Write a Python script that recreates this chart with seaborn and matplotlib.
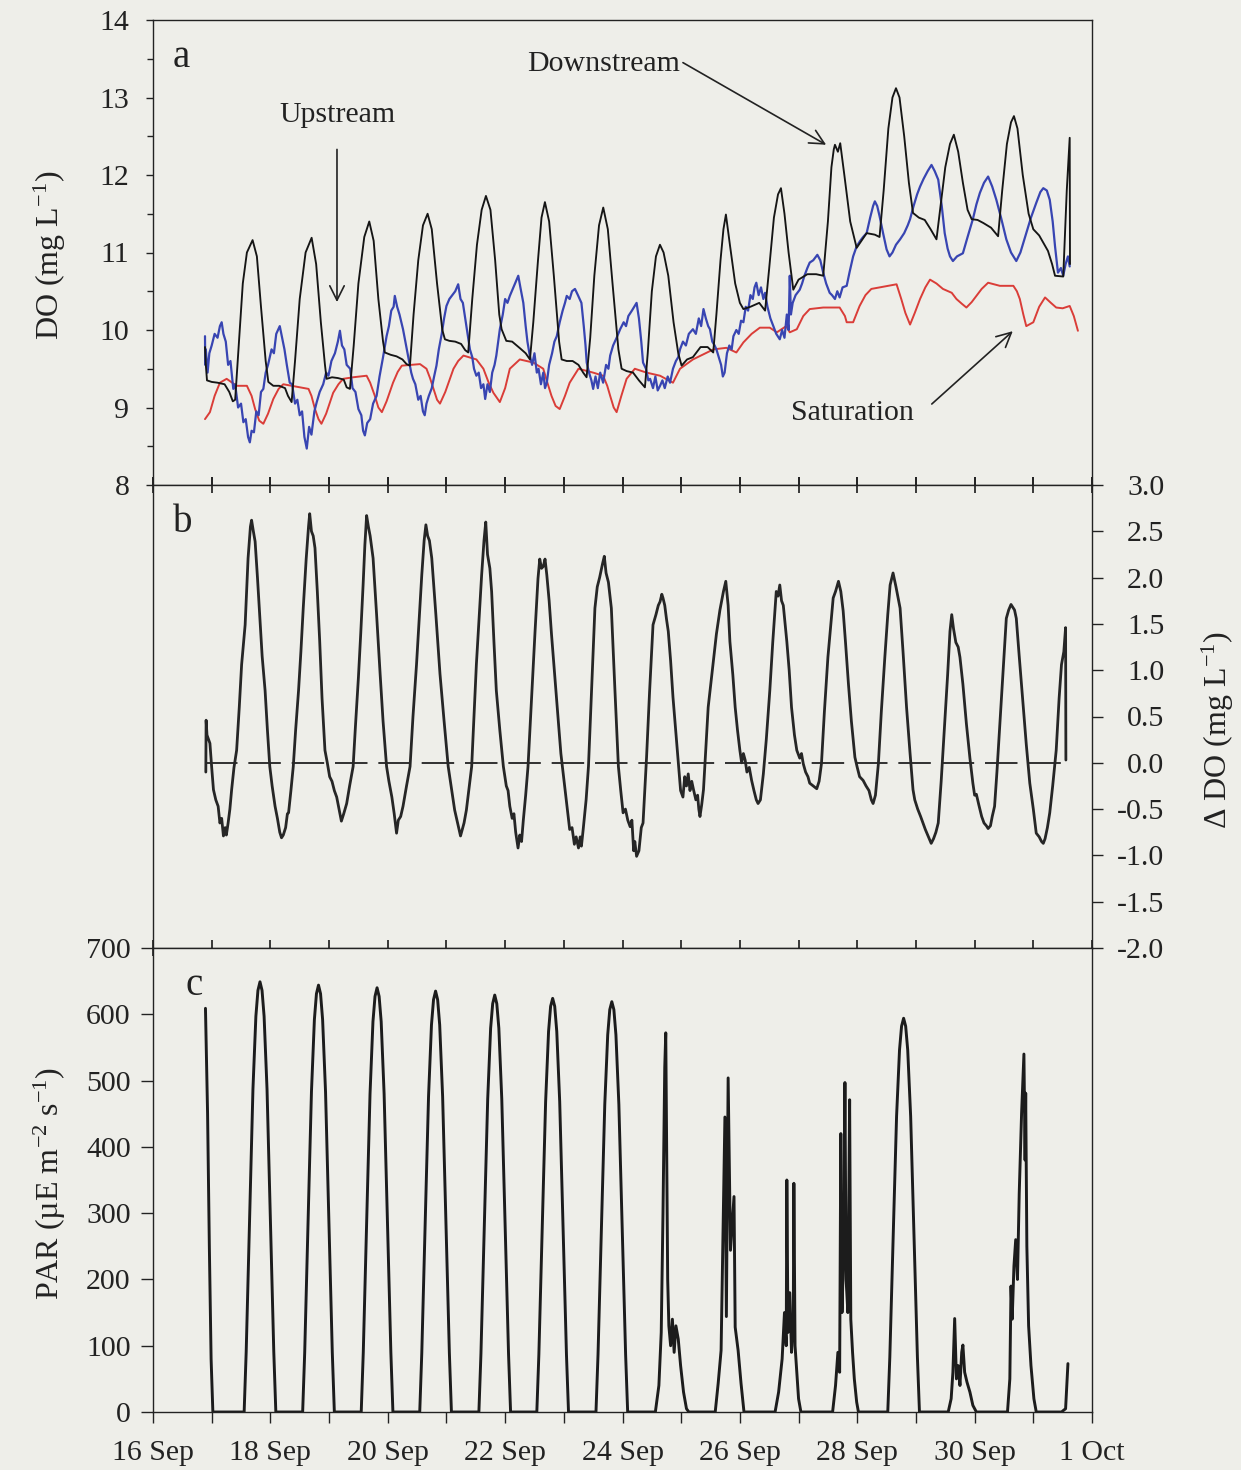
import matplotlib
matplotlib.use("Agg")
import matplotlib.pyplot as plt
from matplotlib.ticker import MultipleLocator, FixedLocator, FormatStrFormatter
import seaborn as sns

# time axis: days after 16 Sep 00:00
date_ticks = list(range(17))
date_labels = ["16 Sep", "", "18 Sep", "", "20 Sep", "", "22 Sep", "", "24 Sep", "",
               "26 Sep", "", "28 Sep", "", "30 Sep", "", "1 Oct"]

# panel a: downstream DO (mg/L)
down_t = [0.886, 0.90, 0.92, 1.0, 1.1, 1.22, 1.30, 1.36, 1.40, 1.47, 1.53, 1.60, 1.697, 1.77, 1.84, 1.92, 1.965,
          2.05, 2.15, 2.25, 2.30, 2.362, 2.42, 2.50, 2.60, 2.703, 2.78, 2.86, 2.93, 2.958,
          3.05, 3.15, 3.25, 3.30, 3.356, 3.42, 3.50, 3.60, 3.685, 3.76, 3.84, 3.92, 3.95,
          4.05, 4.15, 4.25, 4.32, 4.378, 4.44, 4.52, 4.60, 4.679, 4.75, 4.84, 4.93, 4.974,
          5.05, 5.15, 5.25, 5.32, 5.371, 5.44, 5.52, 5.60, 5.673, 5.75, 5.83, 5.90, 5.94,
          6.02, 6.12, 6.26, 6.35, 6.423, 6.48, 6.56, 6.62, 6.678, 6.75, 6.83, 6.92, 6.963,
          7.05, 7.15, 7.25, 7.33, 7.388, 7.45, 7.52, 7.60, 7.672, 7.75, 7.83, 7.93, 7.985,
          8.07, 8.18, 8.28, 8.382, 8.43, 8.50, 8.57, 8.638, 8.70, 8.78, 8.87, 8.95, 9.007,
          9.10, 9.20, 9.33, 9.45, 9.546, 9.60, 9.67, 9.72, 9.762, 9.83, 9.92, 10.00, 10.06,
          10.18, 10.33, 10.43, 10.50, 10.58, 10.65, 10.70, 10.76, 10.83, 10.91,
          11.0, 11.15, 11.30, 11.42, 11.50, 11.56, 11.60, 11.62, 11.67, 11.71, 11.78, 11.88, 11.99,
          12.16, 12.30, 12.38, 12.45, 12.53, 12.60, 12.66, 12.72, 12.80, 12.88, 12.95,
          13.05, 13.15, 13.25, 13.35, 13.42, 13.50, 13.58, 13.646, 13.72, 13.80, 13.88, 13.95,
          14.05, 14.15, 14.28, 14.40, 14.47, 14.55, 14.62, 14.67, 14.73, 14.82, 14.92,
          15.0, 15.10, 15.25, 15.32, 15.37, 15.51, 15.57, 15.62, 15.625]
down_v = [9.78, 9.55, 9.35, 9.33, 9.32, 9.30, 9.20, 9.08, 9.10, 9.9, 10.6, 11.0, 11.16, 10.95, 10.3, 9.6, 9.33,
          9.28, 9.28, 9.25, 9.15, 9.07, 9.6, 10.4, 11.0, 11.19, 10.85, 10.1, 9.55, 9.37,
          9.39, 9.38, 9.36, 9.26, 9.24, 9.8, 10.6, 11.2, 11.40, 11.15, 10.4, 9.85, 9.71,
          9.68, 9.66, 9.62, 9.56, 9.54, 10.2, 10.9, 11.35, 11.50, 11.3, 10.6, 10.0, 9.88,
          9.86, 9.85, 9.82, 9.74, 9.71, 10.4, 11.1, 11.55, 11.73, 11.55, 10.9, 10.2, 10.01,
          9.86, 9.85, 9.76, 9.70, 9.62, 10.1, 10.9, 11.45, 11.65, 11.4, 10.7, 9.85, 9.62,
          9.60, 9.60, 9.55, 9.45, 9.39, 9.9, 10.7, 11.35, 11.58, 11.3, 10.6, 9.75, 9.50,
          9.47, 9.45, 9.35, 9.26, 9.7, 10.5, 10.95, 11.10, 11.0, 10.7, 10.1, 9.7, 9.54,
          9.62, 9.65, 9.78, 9.78, 9.71, 10.2, 10.9, 11.3, 11.49, 11.1, 10.6, 10.35, 10.27,
          10.30, 10.35, 10.25, 10.8, 11.45, 11.75, 11.83, 11.5, 11.0, 10.52,
          10.65, 10.72, 10.72, 10.70, 11.4, 12.1, 12.33, 12.39, 12.30, 12.41, 12.0, 11.4, 11.06,
          11.25, 11.23, 11.20, 11.8, 12.6, 13.0, 13.12, 13.0, 12.5, 11.9, 11.51,
          11.45, 11.42, 11.30, 11.17, 11.6, 12.1, 12.40, 12.52, 12.3, 11.9, 11.55, 11.43,
          11.42, 11.38, 11.32, 11.21, 11.8, 12.4, 12.68, 12.76, 12.6, 12.0, 11.5,
          11.30, 11.22, 11.02, 10.85, 10.70, 10.69, 11.8, 12.48, 10.85]

# panel a: upstream DO (mg/L)
up_t = [0.886, 0.89, 0.90, 0.93, 0.96, 1.00, 1.05, 1.10, 1.14, 1.17, 1.20, 1.24, 1.28, 1.32, 1.368, 1.40, 1.45,
        1.50, 1.54, 1.58, 1.62, 1.65, 1.68, 1.72, 1.76, 1.80, 1.84, 1.88, 1.92, 1.96,
        2.02, 2.06, 2.10, 2.16, 2.20, 2.24, 2.28, 2.33, 2.37, 2.42, 2.46, 2.50, 2.54, 2.58, 2.62, 2.66,
        2.70, 2.75, 2.79, 2.84, 2.90, 2.95, 2.99, 3.04, 3.10, 3.15, 3.185, 3.22, 3.26, 3.30, 3.36,
        3.40, 3.45, 3.50, 3.55, 3.58, 3.61, 3.65, 3.70, 3.75, 3.81, 3.86, 3.92, 3.98,
        4.02, 4.06, 4.10, 4.12, 4.16, 4.20, 4.26, 4.30, 4.35, 4.40, 4.43, 4.47, 4.52, 4.56, 4.60, 4.63,
        4.66, 4.70, 4.75, 4.79, 4.83, 4.87, 4.92, 4.96, 5.00, 5.05, 5.10, 5.15, 5.20, 5.24, 5.28,
        5.33, 5.36, 5.40, 5.44, 5.47, 5.51, 5.55, 5.59, 5.63, 5.66, 5.70, 5.74, 5.78, 5.82, 5.85, 5.91, 5.96,
        6.00, 6.04, 6.08, 6.14, 6.18, 6.224, 6.26, 6.31, 6.35, 6.38, 6.42, 6.46, 6.50, 6.54, 6.57,
        6.61, 6.65, 6.68, 6.71, 6.75, 6.80, 6.84, 6.88, 6.93, 6.98, 7.02, 7.05, 7.10, 7.14, 7.19,
        7.24, 7.30, 7.34, 7.37, 7.39, 7.43, 7.47, 7.50, 7.54, 7.58, 7.62, 7.67, 7.72, 7.76, 7.79,
        7.84, 7.90, 7.96, 8.02, 8.06, 8.10, 8.16, 8.20, 8.24, 8.28, 8.32, 8.35, 8.40, 8.44, 8.47,
        8.52, 8.56, 8.60, 8.64, 8.68, 8.72, 8.77, 8.81, 8.86, 8.91, 8.95, 8.98, 9.03, 9.08, 9.13,
        9.20, 9.25, 9.30, 9.34, 9.38, 9.42, 9.46, 9.49, 9.53, 9.57, 9.60, 9.64, 9.68, 9.71, 9.74,
        9.78, 9.82, 9.86, 9.89, 9.94, 9.98, 10.02, 10.06, 10.10, 10.14, 10.18, 10.22, 10.25, 10.28,
        10.32, 10.36, 10.40, 10.43, 10.47, 10.52, 10.57, 10.62, 10.68, 10.72, 10.76, 10.80, 10.83,
        10.85, 10.87, 10.90, 10.95, 11.02, 11.06, 11.10, 11.15, 11.19, 11.25, 11.32, 11.37, 11.42,
        11.47, 11.53, 11.57, 11.62, 11.66, 11.70, 11.75, 11.82, 11.87, 11.93, 11.99, 12.05, 12.10,
        12.16, 12.22, 12.27, 12.30, 12.34, 12.38, 12.44, 12.50, 12.55, 12.60, 12.66, 12.73, 12.80,
        12.86, 12.90, 12.96, 13.02, 13.07, 13.13, 13.20, 13.265, 13.32, 13.38, 13.44, 13.49, 13.54,
        13.58, 13.63, 13.70, 13.80, 13.88, 13.97, 14.03, 14.09, 14.16, 14.23, 14.30, 14.37, 14.45,
        14.54, 14.62, 14.71, 14.78, 14.88, 14.96, 15.05, 15.12, 15.17, 15.23, 15.28, 15.33, 15.37,
        15.42, 15.47, 15.51, 15.55, 15.59, 15.62]
up_v = [9.92, 9.55, 9.75, 9.45, 9.70, 9.80, 9.95, 9.90, 10.05, 10.10, 9.95, 9.85, 9.55, 9.60, 9.24, 9.30, 9.00,
        9.05, 8.81, 8.85, 8.62, 8.55, 8.70, 8.68, 8.95, 8.90, 9.20, 9.24, 9.45, 9.55,
        9.75, 9.70, 9.95, 10.05, 9.90, 9.75, 9.55, 9.32, 9.30, 9.05, 9.10, 8.90, 8.95, 8.62, 8.47, 8.75,
        8.65, 8.95, 9.07, 9.20, 9.30, 9.45, 9.41, 9.60, 9.70, 9.85, 9.99, 9.80, 9.75, 9.55, 9.50,
        9.25, 9.20, 8.98, 8.90, 8.70, 8.64, 8.80, 8.85, 9.05, 9.15, 9.40, 9.65, 9.92,
        10.05, 10.25, 10.30, 10.44, 10.30, 10.20, 10.01, 9.85, 9.65, 9.45, 9.37, 9.30, 9.10, 9.15, 8.95, 8.90,
        9.05, 9.15, 9.25, 9.40, 9.54, 9.75, 9.95, 10.15, 10.31, 10.40, 10.45, 10.50, 10.59, 10.40, 10.35,
        10.10, 9.95, 9.75, 9.65, 9.50, 9.41, 9.45, 9.25, 9.30, 9.11, 9.30, 9.20, 9.45, 9.55, 9.67, 10.01, 10.20,
        10.40, 10.35, 10.44, 10.55, 10.62, 10.70, 10.55, 10.35, 10.05, 9.85, 9.67, 9.55, 9.70, 9.45, 9.50,
        9.30, 9.45, 9.25, 9.32, 9.55, 9.70, 9.85, 9.92, 10.10, 10.25, 10.35, 10.44, 10.40, 10.50, 10.53,
        10.45, 10.35, 10.05, 9.80, 9.58, 9.45, 9.35, 9.24, 9.40, 9.25, 9.45, 9.32, 9.55, 9.50, 9.67,
        9.80, 9.90, 10.01, 10.10, 10.05, 10.18, 10.25, 10.30, 10.35, 10.15, 9.85, 9.58, 9.50, 9.35, 9.37,
        9.25, 9.40, 9.22, 9.28, 9.35, 9.25, 9.40, 9.32, 9.50, 9.60, 9.65, 9.75, 9.85, 9.80, 9.95,
        10.01, 9.95, 10.15, 10.05, 10.27, 10.15, 10.05, 10.01, 9.85, 9.80, 9.75, 9.65, 9.55, 9.40, 9.45,
        9.70, 9.80, 9.75, 9.92, 10.00, 9.95, 10.12, 10.10, 10.30, 10.25, 10.45, 10.40, 10.55, 10.61,
        10.45, 10.55, 10.40, 10.48, 10.30, 10.15, 10.05, 9.95, 9.88, 10.00, 9.90, 10.20, 10.00,
        10.70, 10.20, 10.35, 10.45, 10.52, 10.60, 10.70, 10.80, 10.87, 10.90, 10.97, 10.90, 10.74,
        10.60, 10.48, 10.45, 10.40, 10.50, 10.42, 10.55, 10.57, 10.75, 10.95, 11.08, 11.15, 11.20,
        11.25, 11.45, 11.60, 11.66, 11.60, 11.47, 11.25, 11.04, 10.95, 11.00, 11.10, 11.17, 11.25,
        11.35, 11.43, 11.60, 11.75, 11.85, 11.95, 12.05, 12.13, 12.05, 11.94, 11.60, 11.25, 11.05,
        10.95, 10.89, 10.95, 10.99, 11.20, 11.43, 11.62, 11.77, 11.90, 11.98, 11.85, 11.68, 11.45,
        11.17, 11.00, 10.89, 11.00, 11.25, 11.45, 11.64, 11.78, 11.83, 11.80, 11.68, 11.40, 11.08,
        10.74, 10.80, 10.70, 10.85, 10.95, 10.82]

# panel a: saturation DO (mg/L)
sat_t = [0.886, 0.97, 1.05, 1.14, 1.255, 1.425, 1.60, 1.68, 1.74, 1.81, 1.88, 1.96, 2.05, 2.14, 2.22, 2.50,
         2.65, 2.70, 2.76, 2.82, 2.87, 2.95, 3.07, 3.16, 3.24, 3.41, 3.64, 3.70, 3.78, 3.84, 3.90, 3.98,
         4.09, 4.17, 4.24, 4.55, 4.66, 4.72, 4.78, 4.84, 4.89, 4.98, 5.12, 5.20, 5.29, 5.51, 5.63, 5.72,
         5.80, 5.91, 6.00, 6.08, 6.25, 6.48, 6.65, 6.72, 6.79, 6.86, 6.93, 7.02, 7.10, 7.25, 7.50, 7.67,
         7.74, 7.79, 7.85, 7.90, 7.98, 8.07, 8.21, 8.41, 8.64, 8.86, 8.98, 9.2, 9.55, 9.77, 9.94, 10.06,
         10.20, 10.34, 10.51, 10.63, 10.79, 10.85, 10.97, 11.08, 11.19, 11.42, 11.70, 11.79, 11.82, 11.93,
         12.04, 12.14, 12.24, 12.38, 12.67, 12.75, 12.82, 12.90, 12.98, 13.07, 13.16, 13.24, 13.35, 13.46,
         13.61, 13.69, 13.78, 13.86, 13.95, 14.03, 14.12, 14.23, 14.43, 14.66, 14.72, 14.77, 14.83, 14.88,
         15.0, 15.10, 15.20, 15.30, 15.39, 15.50, 15.62, 15.69, 15.76]
sat_v = [8.85, 8.94, 9.15, 9.32, 9.37, 9.28, 9.28, 9.15, 8.98, 8.83, 8.79, 8.92, 9.11, 9.24, 9.30, 9.26,
         9.24, 9.15, 8.98, 8.85, 8.79, 8.92, 9.19, 9.30, 9.37, 9.39, 9.41, 9.32, 9.15, 9.00, 8.94, 9.08,
         9.32, 9.46, 9.54, 9.56, 9.50, 9.38, 9.24, 9.10, 9.05, 9.20, 9.50, 9.60, 9.67, 9.62, 9.50, 9.32,
         9.19, 9.07, 9.25, 9.50, 9.62, 9.58, 9.50, 9.32, 9.15, 9.02, 8.98, 9.15, 9.32, 9.50, 9.45, 9.41,
         9.28, 9.15, 9.00, 8.94, 9.15, 9.37, 9.50, 9.45, 9.41, 9.32, 9.50, 9.62, 9.75, 9.77, 9.71, 9.84,
         9.95, 10.03, 10.03, 9.97, 10.05, 9.97, 10.01, 10.18, 10.27, 10.29, 10.29, 10.18, 10.10, 10.10,
         10.31, 10.45, 10.53, 10.55, 10.59, 10.40, 10.22, 10.07, 10.22, 10.40, 10.55, 10.65, 10.60, 10.53,
         10.48, 10.40, 10.34, 10.29, 10.36, 10.44, 10.53, 10.61, 10.57, 10.57, 10.50, 10.40, 10.20, 10.05,
         10.10, 10.30, 10.42, 10.35, 10.29, 10.28, 10.31, 10.18, 9.99]

# panel b: delta DO (mg/L)
ddo_t = [0.90, 0.905, 0.92, 0.97, 1.00, 1.03, 1.07, 1.11, 1.14, 1.17, 1.20, 1.23, 1.25, 1.28, 1.31, 1.34, 1.38,
         1.425, 1.47, 1.51, 1.57, 1.62, 1.66, 1.68, 1.71, 1.74, 1.78, 1.82, 1.86, 1.91, 1.95, 1.99,
         2.03, 2.08, 2.12, 2.16, 2.19, 2.22, 2.26, 2.29, 2.31, 2.35, 2.39, 2.43, 2.48, 2.52, 2.56, 2.61,
         2.65, 2.67, 2.70, 2.73, 2.76, 2.80, 2.84, 2.88, 2.93, 2.97, 3.01, 3.05, 3.09, 3.13, 3.17, 3.21,
         3.25, 3.30, 3.35, 3.41, 3.45, 3.50, 3.54, 3.58, 3.61, 3.64, 3.67, 3.70, 3.75, 3.81, 3.87, 3.92,
         3.98, 4.02, 4.07, 4.11, 4.15, 4.18, 4.22, 4.26, 4.32, 4.38, 4.43, 4.49, 4.54, 4.58, 4.62, 4.65,
         4.68, 4.71, 4.75, 4.82, 4.89, 4.96, 5.03, 5.08, 5.14, 5.18, 5.21, 5.24, 5.27, 5.30, 5.34, 5.39,
         5.43, 5.47, 5.51, 5.56, 5.60, 5.64, 5.67, 5.70, 5.74, 5.77, 5.81, 5.85, 5.91, 5.97, 6.02, 6.05,
         6.08, 6.12, 6.15, 6.18, 6.22, 6.25, 6.28, 6.31, 6.35, 6.39, 6.45, 6.51, 6.56, 6.59, 6.62, 6.65,
         6.68, 6.71, 6.75, 6.79, 6.85, 6.91, 6.95, 6.99, 7.03, 7.07, 7.10, 7.14, 7.18, 7.21, 7.25, 7.28,
         7.30, 7.33, 7.38, 7.42, 7.47, 7.53, 7.57, 7.61, 7.66, 7.69, 7.72, 7.76, 7.81, 7.87, 7.93, 7.97,
         8.01, 8.05, 8.09, 8.13, 8.16, 8.19, 8.21, 8.24, 8.28, 8.32, 8.35, 8.38, 8.41, 8.46, 8.52, 8.57,
         8.61, 8.64, 8.67, 8.69, 8.72, 8.75, 8.78, 8.82, 8.86, 8.90, 8.95, 8.99, 9.03, 9.06, 9.09, 9.12,
         9.15, 9.18, 9.21, 9.25, 9.28, 9.30, 9.32, 9.35, 9.38, 9.42, 9.46, 9.53, 9.60, 9.66, 9.72, 9.76,
         9.80, 9.83, 9.88, 9.92, 9.96, 10.00, 10.03, 10.06, 10.09, 10.12, 10.16, 10.20, 10.24, 10.28,
         10.31, 10.35, 10.40, 10.45, 10.51, 10.56, 10.62, 10.65, 10.68, 10.71, 10.74, 10.80, 10.84, 10.88,
         10.93, 10.97, 11.02, 11.05, 11.08, 11.12, 11.16, 11.19, 11.25, 11.31, 11.35, 11.39, 11.44, 11.50,
         11.55, 11.59, 11.63, 11.68, 11.72, 11.76, 11.80, 11.85, 11.90, 11.96, 12.00, 12.04, 12.10, 12.15,
         12.20, 12.24, 12.27, 12.31, 12.36, 12.41, 12.47, 12.52, 12.56, 12.61, 12.66, 12.73, 12.78, 12.84,
         12.90, 12.95, 12.98, 13.03, 13.08, 13.12, 13.16, 13.20, 13.26, 13.30, 13.34, 13.38, 13.43, 13.49,
         13.54, 13.58, 13.61, 13.64, 13.68, 13.72, 13.75, 13.80, 13.86, 13.92, 13.97, 14.00, 14.03, 14.07,
         14.12, 14.16, 14.20, 14.23, 14.27, 14.30, 14.34, 14.38, 14.43, 14.48, 14.54, 14.58, 14.62, 14.65,
         14.68, 14.71, 14.76, 14.83, 14.88, 14.94, 15.00, 15.05, 15.10, 15.14, 15.17, 15.20, 15.24, 15.28,
         15.33, 15.39, 15.44, 15.48, 15.52, 15.55, 15.555]
ddo_v = [-0.10, 0.46, 0.30, 0.21, -0.05, -0.29, -0.40, -0.47, -0.65, -0.60, -0.79, -0.70, -0.78, -0.65, -0.50, -0.29, -0.05,
         0.135, 0.60, 1.06, 1.49, 2.21, 2.55, 2.62, 2.50, 2.39, 2.00, 1.57, 1.15, 0.78, 0.35, -0.04,
         -0.25, -0.47, -0.60, -0.75, -0.81, -0.78, -0.70, -0.55, -0.54, -0.30, -0.04, 0.35, 0.78, 1.20, 1.67, 2.20,
         2.55, 2.69, 2.50, 2.45, 2.32, 1.85, 1.32, 0.70, 0.135, 0.0, -0.15, -0.20, -0.30, -0.37, -0.50, -0.63,
         -0.55, -0.44, -0.25, -0.04, 0.40, 0.92, 1.40, 1.92, 2.35, 2.67, 2.55, 2.45, 2.21, 1.60, 0.96, 0.45,
         -0.04, -0.20, -0.37, -0.55, -0.76, -0.62, -0.58, -0.47, -0.25, -0.04, 0.50, 1.06, 1.60, 2.03, 2.40, 2.57,
         2.45, 2.40, 2.21, 1.60, 0.96, 0.45, -0.04, -0.25, -0.51, -0.62, -0.70, -0.79, -0.72, -0.65, -0.51, -0.25,
         -0.04, 0.50, 1.06, 1.60, 2.03, 2.40, 2.60, 2.25, 2.10, 1.85, 1.30, 0.78, 0.35, -0.04, -0.25, -0.30,
         -0.47, -0.60, -0.55, -0.75, -0.92, -0.78, -0.85, -0.62, -0.35, -0.04, 0.70, 1.42, 1.99, 2.20, 2.10, 2.12,
         2.20, 2.03, 1.75, 1.39, 0.90, 0.42, 0.10, -0.12, -0.35, -0.55, -0.72, -0.70, -0.88, -0.80, -0.92, -0.80,
         -0.90, -0.72, -0.40, -0.04, 0.75, 1.67, 1.90, 2.00, 2.15, 2.23, 2.05, 1.95, 1.67, 0.80, -0.04, -0.30,
         -0.54, -0.50, -0.62, -0.69, -0.62, -0.95, -0.85, -1.01, -0.95, -0.70, -0.65, -0.30, 0.06, 0.75, 1.49, 1.60,
         1.70, 1.74, 1.82, 1.78, 1.70, 1.55, 1.42, 1.10, 0.71, 0.40, 0.0, -0.30, -0.37, -0.15, -0.25, -0.12,
         -0.30, -0.20, -0.29, -0.40, -0.35, -0.50, -0.58, -0.45, -0.29, 0.15, 0.60, 1.00, 1.39, 1.65, 1.85, 1.96,
         1.70, 1.31, 0.95, 0.60, 0.35, 0.135, 0.0, 0.10, 0.03, -0.10, -0.05, -0.19, -0.30, -0.40,
         -0.44, -0.40, -0.12, 0.25, 0.78, 1.30, 1.85, 1.80, 1.92, 1.75, 1.70, 1.31, 1.00, 0.60,
         0.30, 0.135, 0.05, 0.10, -0.01, -0.10, -0.15, -0.22, -0.25, -0.28, -0.20, -0.01, 0.55, 1.14,
         1.50, 1.78, 1.85, 1.96, 1.85, 1.64, 1.30, 0.85, 0.45, 0.06, -0.05, -0.15, -0.19, -0.25,
         -0.30, -0.40, -0.44, -0.35, -0.01, 0.55, 1.14, 1.60, 1.92, 2.05, 1.90, 1.67, 1.20, 0.60,
         0.10, -0.29, -0.40, -0.50, -0.58, -0.65, -0.72, -0.78, -0.87, -0.82, -0.75, -0.65, -0.20, 0.42,
         0.95, 1.42, 1.60, 1.45, 1.30, 1.25, 1.14, 0.85, 0.42, 0.05, -0.22, -0.35, -0.34, -0.45,
         -0.58, -0.65, -0.68, -0.71, -0.68, -0.58, -0.47, -0.10, 0.42, 0.95, 1.56, 1.65, 1.71, 1.68,
         1.65, 1.56, 1.15, 0.60, 0.20, -0.22, -0.50, -0.76, -0.80, -0.85, -0.87, -0.82, -0.70, -0.54,
         -0.25, 0.135, 0.70, 1.06, 1.20, 1.46, 0.03]
zero_t = [0.89, 15.62]
zero_v = [0.0, 0.0]

# panel c: PAR (uE m-2 s-1)
par_t = [0.894, 0.93, 0.96, 0.99, 1.02,
         1.553, 1.588, 1.623, 1.663, 1.703, 1.753, 1.788, 1.823, 1.858, 1.893, 1.943, 1.983, 2.023, 2.058, 2.093,
         2.550, 2.585, 2.620, 2.660, 2.700, 2.750, 2.785, 2.820, 2.855, 2.890, 2.940, 2.980, 3.020, 3.055, 3.090,
         3.548, 3.583, 3.618, 3.658, 3.698, 3.748, 3.783, 3.818, 3.853, 3.888, 3.938, 3.978, 4.018, 4.053, 4.088,
         4.545, 4.580, 4.615, 4.655, 4.695, 4.745, 4.780, 4.815, 4.850, 4.885, 4.935, 4.975, 5.015, 5.050, 5.085,
         5.553, 5.588, 5.623, 5.663, 5.703, 5.753, 5.788, 5.823, 5.858, 5.893, 5.943, 5.983, 6.023, 6.058, 6.093,
         6.540, 6.575, 6.610, 6.650, 6.690, 6.740, 6.775, 6.810, 6.845, 6.880, 6.930, 6.970, 7.010, 7.045, 7.080,
         7.548, 7.583, 7.618, 7.658, 7.698, 7.748, 7.783, 7.818, 7.853, 7.888, 7.938, 7.978, 8.018, 8.053, 8.088,
         8.56, 8.62, 8.66, 8.69, 8.72, 8.737, 8.75, 8.77, 8.79, 8.82, 8.85, 8.88, 8.91, 8.95, 8.99, 9.04, 9.09, 9.13,
         9.58, 9.63, 9.68, 9.745, 9.77, 9.80, 9.84, 9.90, 9.92, 9.97, 10.02, 10.07,
         10.60, 10.66, 10.72, 10.76, 10.79, 10.80, 10.82, 10.85, 10.88, 10.91, 10.92, 10.94, 10.97, 11.0, 11.04,
         11.58, 11.63, 11.67, 11.70, 11.72, 11.74, 11.77, 11.79, 11.81, 11.84, 11.87, 11.89, 11.92, 11.95, 11.99, 12.02,
         12.52, 12.555, 12.59, 12.63, 12.67, 12.72, 12.755, 12.79, 12.825, 12.86, 12.91, 12.95, 12.99, 13.025, 13.06,
         13.55, 13.60, 13.63, 13.66, 13.69, 13.72, 13.75, 13.78, 13.80, 13.83, 13.87, 13.92, 13.97, 14.03,
         14.56, 14.60, 14.62, 14.64, 14.67, 14.70, 14.73, 14.76, 14.80, 14.84, 14.86, 14.87, 14.89, 14.92, 14.96, 15.01, 15.05,
         15.48, 15.55, 15.59]
par_v = [609, 450, 250, 80, 0,
         0, 91, 214, 350, 487, 597, 636, 649, 636, 597, 487, 350, 214, 91, 0,
         0, 90, 213, 348, 483, 592, 631, 644, 631, 592, 483, 348, 213, 90, 0,
         0, 90, 211, 346, 480, 589, 627, 640, 627, 589, 480, 346, 211, 90, 0,
         0, 89, 210, 343, 476, 584, 622, 635, 622, 584, 476, 343, 210, 89, 0,
         0, 88, 208, 340, 472, 579, 616, 629, 616, 579, 472, 340, 208, 88, 0,
         0, 87, 206, 337, 468, 574, 612, 624, 612, 574, 468, 337, 206, 87, 0,
         0, 87, 204, 334, 464, 569, 607, 619, 607, 569, 464, 334, 204, 87, 0,
         0, 40, 120, 300, 520, 572, 420, 200, 130, 100, 140, 90, 130, 110, 70, 30, 5, 0,
         0, 43, 93, 445, 144, 504, 244, 325, 128, 93, 43, 0,
         0, 30, 80, 150, 100, 350, 120, 180, 90, 140, 345, 100, 60, 20, 0,
         0, 40, 90, 60, 420, 150, 250, 497, 200, 150, 471, 140, 90, 50, 15, 0,
         0, 83, 196, 321, 446, 546, 582, 594, 582, 546, 446, 321, 196, 83, 0,
         0, 20, 60, 141, 50, 70, 40, 90, 101, 60, 45, 30, 10, 0,
         0, 50, 190, 140, 220, 260, 200, 330, 450, 540, 380, 481, 250, 130, 70, 20, 0,
         0, 5, 73]

# ---- style ----
paper = "#eeeee9"
ink = "#222222"
sns.set_theme(style="ticks", rc={"figure.facecolor": paper, "axes.facecolor": paper,
                                 "axes.edgecolor": ink, "axes.linewidth": 1.0,
                                 "xtick.color": ink, "ytick.color": ink, "text.color": ink})
plt.rcParams["font.family"] = ["Liberation Serif", "DejaVu Serif"]
plt.rcParams["mathtext.fontset"] = "custom"
plt.rcParams["mathtext.rm"] = "Liberation Serif"
plt.rcParams["mathtext.it"] = "Liberation Serif:italic"
plt.rcParams["axes.unicode_minus"] = False

FS = 21.5
fig = plt.figure(figsize=(12.41, 14.70), dpi=100)
W, H = 1241.0, 1470.0
left, width = 153 / W, 939 / W
ax_a = fig.add_axes([left, 1 - 485 / H, width, 465 / H])
ax_b = fig.add_axes([left, 1 - 948 / H, width, 463 / H], sharex=ax_a)
ax_c = fig.add_axes([left, 1 - 1412 / H, width, 464 / H], sharex=ax_a)

# panel a
sns.lineplot(x=sat_t, y=sat_v, ax=ax_a, color="#da3d38", lw=1.4, estimator=None, sort=False)
sns.lineplot(x=up_t, y=up_v, ax=ax_a, color="#3845b2", lw=1.6, estimator=None, sort=False)
sns.lineplot(x=down_t, y=down_v, ax=ax_a, color="#151515", lw=1.35, estimator=None, sort=False)
ax_a.set_ylim(8, 14)
ax_a.yaxis.set_major_locator(MultipleLocator(1))
ax_a.yaxis.set_minor_locator(MultipleLocator(0.5))
ax_a.tick_params(axis="y", which="major", direction="out", length=5, width=1, labelsize=FS, pad=12)
ax_a.tick_params(axis="y", which="minor", direction="out", length=4, width=1)
ax_a.tick_params(axis="x", which="both", bottom=True, top=False, direction="in", length=6,
                 labelbottom=False)
ax_a.text(0.021, 0.92, "a", transform=ax_a.transAxes, fontsize=28, va="center", ha="left")

arrow = dict(arrowstyle="->", lw=1.2, color=ink, mutation_scale=26, shrinkA=0, shrinkB=0)
ax_a.text(7.67, 13.43, "Downstream", fontsize=FS, ha="center", va="center")
ax_a.annotate("", xy=(11.47, 12.39), xytext=(9.03, 13.45), arrowprops=arrow)
ax_a.text(3.15, 12.78, "Upstream", fontsize=FS, ha="center", va="center")
ax_a.annotate("", xy=(3.135, 10.36), xytext=(3.135, 12.33), arrowprops=arrow)
ax_a.text(11.91, 8.93, "Saturation", fontsize=FS, ha="center", va="center")
ax_a.annotate("", xy=(14.65, 9.985), xytext=(13.27, 9.045), arrowprops=arrow)

# panel b
sns.lineplot(x=zero_t, y=zero_v, ax=ax_b, color=ink, lw=1.3, estimator=None, sort=False)
ax_b.lines[-1].set_dashes([18, 6])
sns.lineplot(x=ddo_t, y=ddo_v, ax=ax_b, color="#262626", lw=2.0, estimator=None, sort=False)
ax_b.set_ylim(-2.0, 3.0)
ax_b.yaxis.tick_right()
ax_b.yaxis.set_major_locator(MultipleLocator(0.5))
ax_b.yaxis.set_major_formatter(FormatStrFormatter("%.1f"))
ax_b.tick_params(axis="y", which="major", direction="out", length=8, width=1, labelsize=FS,
                 pad=44, left=False, right=True)
for lab in ax_b.get_yticklabels():
    lab.set_horizontalalignment("right")
ax_b.tick_params(axis="x", which="both", bottom=True, top=True, direction="inout", length=12,
                 labelbottom=False)
ax_b.text(0.021, 0.92, "b", transform=ax_b.transAxes, fontsize=28, va="center", ha="left")

# panel c
sns.lineplot(x=par_t, y=par_v, ax=ax_c, color="#1c1c1c", lw=2.1, estimator=None, sort=False)
ax_c.set_ylim(0, 700)
ax_c.yaxis.set_major_locator(MultipleLocator(100))
ax_c.tick_params(axis="y", which="major", direction="out", length=9, width=1, labelsize=FS, pad=7)
ax_c.set_xlim(0, 16)
ax_c.xaxis.set_major_locator(FixedLocator(date_ticks))
ax_c.set_xticklabels(date_labels)
ax_c.tick_params(axis="x", which="major", direction="out", length=8, width=1, labelsize=FS, pad=12,
                 top=False)
ax_c.text(0.035, 0.92, "c", transform=ax_c.transAxes, fontsize=28, va="center", ha="left")

for ax in (ax_a, ax_b, ax_c):
    ax.set_xlabel("")
    ax.set_ylabel("")
    for s in ax.spines.values():
        s.set_visible(True)
        s.set_color(ink)
        s.set_linewidth(1.0)

fig.text(50 / W, 1 - 255 / H, "DO (mg L$^{-1}$)", rotation=90, fontsize=23, ha="center", va="center")
fig.text(1218 / W, 1 - 730 / H, "\u0394 DO (mg L$^{-1}$)", rotation=90, fontsize=23,
         ha="center", va="center")
fig.text(50 / W, 1 - 1183 / H, "PAR (\u00b5E m$^{-2}$ s$^{-1}$)", rotation=90, fontsize=23,
         ha="center", va="center")

fig.savefig("out.png", dpi=100, facecolor=paper)
